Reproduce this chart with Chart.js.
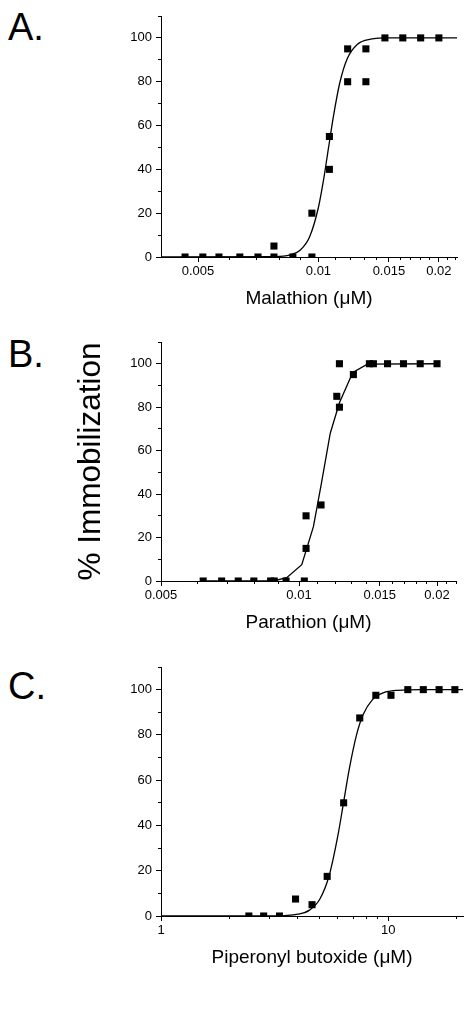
<!DOCTYPE html>
<html>
<head>
<meta charset="utf-8">
<script src="https://cdn.jsdelivr.net/npm/chart.js@4.4.1/dist/chart.umd.min.js"></script>
<style>
  body { margin: 0; background: #fff; }
  #page { position: relative; width: 468px; height: 1016px; overflow: hidden; }
  canvas { position: absolute; left: 0; }
  .tag { position: absolute; left: 8px; font: 38px "Liberation Sans", Arial, sans-serif; line-height: 38px; color: #000; }
</style>
</head>
<body>
<div id="page">
  <div class="tag" style="top:8px">A.</div>
  <div class="tag" style="top:335px">B.</div>
  <div class="tag" style="top:667px">C.</div>
  <canvas id="panelA" width="468" height="320" style="top:0"></canvas>
  <canvas id="panelB" width="468" height="320" style="top:320px"></canvas>
  <canvas id="panelC" width="468" height="376" style="top:640px"></canvas>
</div>
<script>
// y axis (shared by all panels)
const yMajor = [0, 20, 40, 60, 80, 100];
const yMajorLabels = ['0', '20', '40', '60', '80', '100'];
const yMinor = [10, 30, 50, 70, 90, 110];

// A. Malathion
const malathionConc = [0.00464, 0.00514, 0.00564, 0.00636, 0.00706, 0.00774, 0.00774, 0.00863, 0.00963, 0.00963,
  0.01065, 0.01065, 0.01183, 0.01183, 0.01314, 0.01314, 0.01466, 0.01625, 0.01801, 0.02];
const malathionPct = [0, 0, 0, 0, 0, 0, 5, 0, 0, 20, 40, 55, 80, 95, 80, 95, 100, 100, 100, 100];
const malathionFitConc = [0.00404, 0.0078, 0.0085, 0.009, 0.0095, 0.01, 0.0103, 0.0106, 0.0109, 0.0113, 0.0118, 0.0125, 0.0135, 0.015, 0.0222];
const malathionFitPct = [0, 0.2, 1, 3.1, 9.1, 22.7, 35.3, 50, 64.2, 79.3, 90.5, 97, 99.4, 100, 100];

// B. Parathion
const parathionConc = [0.00618, 0.00678, 0.00737, 0.00797, 0.00867, 0.00883, 0.00937, 0.01027, 0.01036, 0.01036,
  0.01117, 0.01209, 0.01225, 0.01225, 0.01314, 0.01424, 0.01453, 0.0156, 0.0169, 0.01838, 0.02];
const parathionPct = [0, 0, 0, 0, 0, 0, 0, 0, 15, 30, 35, 85, 80, 100, 95, 100, 100, 100, 100, 100, 100];
const parathionFitConc = [0.0062, 0.0088, 0.0094, 0.01014, 0.01075, 0.01117, 0.0117, 0.01225, 0.0131, 0.0141, 0.02];
const parathionFitPct = [0, 0, 1.5, 7.5, 25, 44, 68, 82, 96, 99.8, 100];

// C. Piperonyl butoxide
const pboConc = [2.435, 2.829, 3.32, 3.907, 4.617, 5.382, 6.359, 7.485, 8.81, 10.27, 12.18, 14.25, 16.72, 19.62];
const pboPct = [0, 0, 0, 7.5, 5, 17.5, 50, 87.5, 97.5, 97.5, 100, 100, 100, 100];
const pboFitConc = [1, 3, 3.5, 4, 4.5, 5, 5.5, 6, 6.35, 6.75, 7.25, 7.75, 8.5, 9.5, 11, 14, 21.3];
const pboFitPct = [0, 0, 0.2, 0.8, 2.6, 7.5, 18.1, 35.6, 50, 65.5, 80.1, 89, 95.5, 98.6, 99.7, 100, 100];

// x axis ticks
const opMajor = [0.005, 0.01, 0.015, 0.02];
const opMajorLabels = ['0.005', '0.01', '0.015', '0.02'];
const opMinor = [0.006, 0.007, 0.008, 0.009, 0.011, 0.012, 0.013, 0.014, 0.016, 0.017, 0.018, 0.019, 0.021, 0.022];
const pboMajor = [1, 10];
const pboMajorLabels = ['1', '10'];
const pboMinor = [2, 3, 4, 5, 6, 7, 8, 9, 20];

Chart.defaults.font.family = '"Liberation Sans", Arial, sans-serif';
Chart.defaults.color = '#000';

function pairs(xs, ys) {
  return xs.map((x, i) => ({ x: x, y: ys[i] }));
}

function makePanel(id, p) {
  const ctx = document.getElementById(id).getContext('2d');
  return new Chart(ctx, {
    type: 'scatter',
    data: {
      datasets: [{
        data: pairs(p.conc, p.pct),
        pointStyle: 'rect',
        pointRadius: 5,
        backgroundColor: '#000',
        borderColor: '#000',
        borderWidth: 0
      }, {
        data: pairs(p.fitConc, p.fitPct),
        showLine: true,
        pointRadius: 0,
        borderColor: '#000',
        borderWidth: 1.3,
        tension: 0,
        cubicInterpolationMode: p.smooth ? 'monotone' : 'default'
      }]
    },
    options: {
      responsive: false,
      animation: false,
      devicePixelRatio: 1,
      layout: { padding: p.padding },
      plugins: { legend: { display: false }, tooltip: { enabled: false } },
      scales: {
        x: {
          type: 'logarithmic',
          position: 'bottom',
          min: p.xMin,
          max: p.xMax,
          afterBuildTicks: ax => { ax.ticks = p.major.map(v => ({ value: v })); },
          afterFit: ax => { ax.height = 53; },
          ticks: { autoSkip: false, maxRotation: 0, padding: 2, font: { size: 13 },
            callback: (v, i) => p.majorLabels[i] },
          grid: { drawOnChartArea: false, tickLength: 5, color: '#000' },
          border: { color: '#000', width: 1 },
          title: { display: true, text: p.xTitle, font: { size: 19 }, padding: 0 }
        },
        xm: {
          type: 'logarithmic',
          position: { y: 0 },
          min: p.xMin,
          max: p.xMax,
          afterBuildTicks: ax => { ax.ticks = p.minor.map(v => ({ value: v })); },
          ticks: { display: false },
          grid: { drawOnChartArea: false, tickLength: 3, color: '#000' },
          border: { display: false }
        },
        y: {
          type: 'linear',
          position: 'left',
          min: 0,
          max: 110,
          afterBuildTicks: ax => { ax.ticks = yMajor.map(v => ({ value: v })); },
          afterFit: ax => { ax.width = p.yWidth; },
          ticks: { autoSkip: false, padding: 4, font: { size: 13 },
            callback: (v, i) => yMajorLabels[i] },
          grid: { drawOnChartArea: false, tickLength: 5, color: '#000' },
          border: { color: '#000', width: 1 },
          title: p.yTitle
            ? { display: true, text: p.yTitle, font: { size: 31.5 }, padding: 0 }
            : { display: false }
        },
        ym: {
          type: 'linear',
          position: { x: p.xMin },
          min: 0,
          max: 110,
          afterBuildTicks: ax => { ax.ticks = yMinor.map(v => ({ value: v })); },
          ticks: { display: false },
          grid: { drawOnChartArea: false, tickLength: 3, color: '#000' },
          border: { display: false }
        }
      }
    }
  });
}

makePanel('panelA', {
  conc: malathionConc, pct: malathionPct,
  fitConc: malathionFitConc, fitPct: malathionFitPct, smooth: true,
  xMin: 0.00404, xMax: 0.0222,
  major: opMajor, majorLabels: opMajorLabels, minor: opMinor,
  xTitle: 'Malathion (\u03bcM)',
  yWidth: 40,
  padding: { left: 121, right: 11, top: 16, bottom: 10 }
});

makePanel('panelB', {
  conc: parathionConc, pct: parathionPct,
  fitConc: parathionFitConc, fitPct: parathionFitPct, smooth: false,
  xMin: 0.005, xMax: 0.022,
  major: opMajor, majorLabels: opMajorLabels, minor: opMinor,
  xTitle: 'Parathion (\u03bcM)',
  yTitle: '% Immobilization',
  yWidth: 89,
  padding: { left: 72, right: 12, top: 22, bottom: 6 }
});

makePanel('panelC', {
  conc: pboConc, pct: pboPct,
  fitConc: pboFitConc, fitPct: pboFitPct, smooth: true,
  xMin: 1, xMax: 21.3,
  major: pboMajor, majorLabels: pboMajorLabels, minor: pboMinor,
  xTitle: 'Piperonyl butoxide (\u03bcM)',
  yWidth: 40,
  padding: { left: 121, right: 1, top: 27, bottom: 47 }
});
</script>
</body>
</html>
